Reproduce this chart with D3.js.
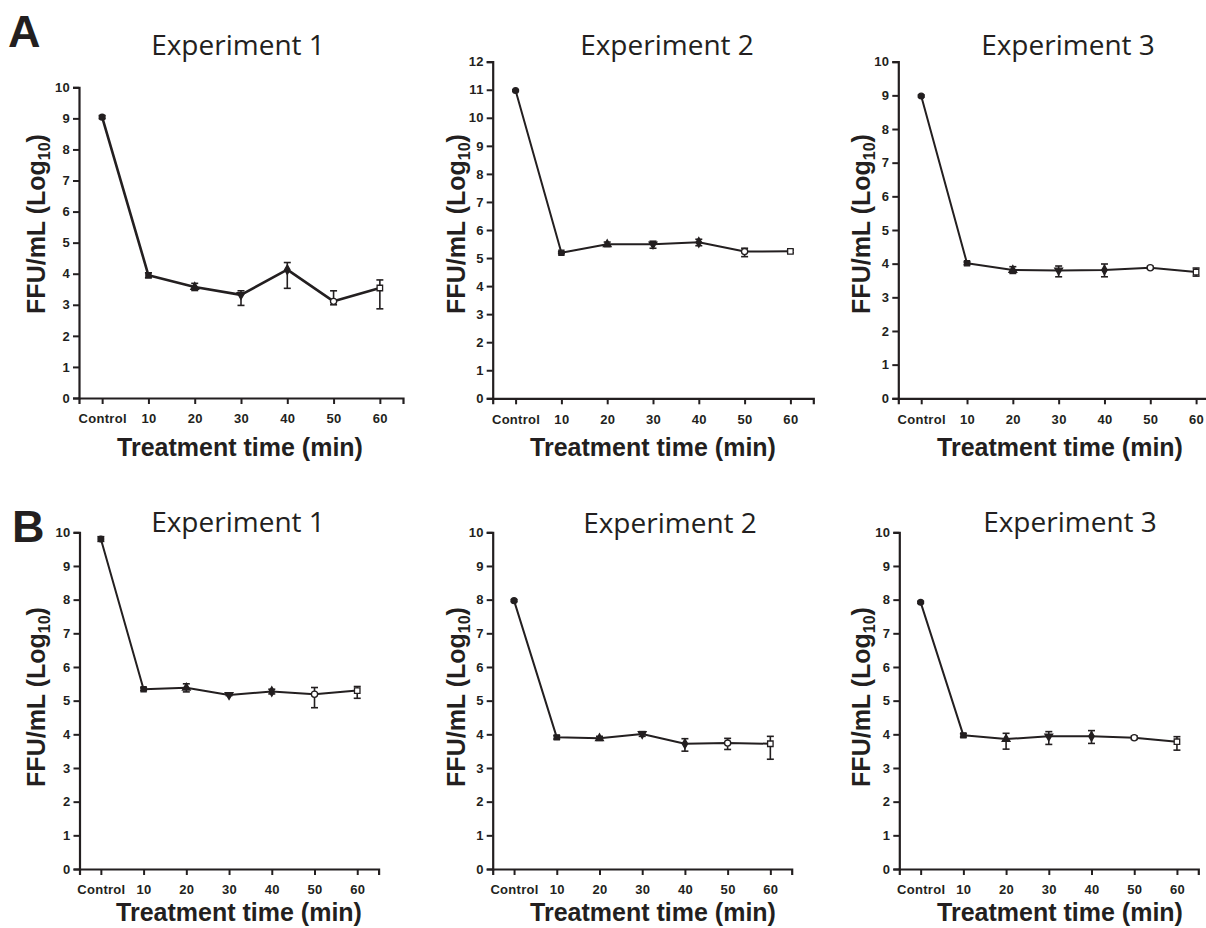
<!DOCTYPE html>
<html>
<head>
<meta charset="utf-8">
<style>
  body { margin: 0; background: #fff; }
  .tick text { font-family: "Liberation Sans", Arial, sans-serif; font-weight: bold; font-size: 13px; fill: #231f20; letter-spacing: 0.3px; }
  .title { font-family: "Open Sans", sans-serif; font-size: 28px; fill: #231f20; }
  .axtitle { font-family: "Liberation Sans", Arial, sans-serif; font-weight: bold; font-size: 25px; fill: #231f20; }
  .letter { font-family: "Liberation Sans", Arial, sans-serif; font-weight: bold; font-size: 45px; fill: #231f20; }
</style>
</head>
<body>
<svg id="fig"></svg>
<script src="https://d3js.org/d3.v7.min.js"></script>
<script>
// time points on the x axis
const timeLabels = ["Control", "10", "20", "30", "40", "50", "60"];

// panel A
const a1Mean = [9.04, 3.95, 3.57, 3.32, 4.13, 3.11, 3.54];
const a1Low  = [8.99, 3.87, 3.46, 2.98, 3.53, 3.00, 2.87];
const a1High = [9.09, 4.03, 3.69, 3.45, 4.36, 3.45, 3.80];

const a2Mean = [10.97, 5.19, 5.49, 5.49, 5.56, 5.23, 5.24];
const a2Low  = [10.94, 5.16, 5.41, 5.35, 5.44, 5.05, 5.19];
const a2High = [11.00, 5.22, 5.57, 5.60, 5.67, 5.35, 5.29];

const a3Mean = [8.98, 4.01, 3.81, 3.80, 3.81, 3.88, 3.75];
const a3Low  = [8.95, 3.97, 3.71, 3.61, 3.61, 3.84, 3.63];
const a3High = [9.01, 4.05, 3.91, 3.93, 3.99, 3.92, 3.87];

// panel B
const b1Mean = [9.80, 5.34, 5.38, 5.17, 5.27, 5.19, 5.30];
const b1Low  = [9.73, 5.30, 5.26, 5.15, 5.20, 4.79, 5.07];
const b1High = [9.87, 5.38, 5.50, 5.19, 5.34, 5.39, 5.42];

const b2Mean = [7.97, 3.91, 3.88, 4.01, 3.72, 3.74, 3.72];
const b2Low  = [7.94, 3.86, 3.82, 3.94, 3.50, 3.55, 3.26];
const b2High = [8.00, 3.96, 3.94, 4.08, 3.87, 3.88, 3.94];

const b3Mean = [7.92, 3.97, 3.86, 3.94, 3.94, 3.90, 3.78];
const b3Low  = [7.89, 3.92, 3.56, 3.70, 3.73, 3.85, 3.53];
const b3High = [7.95, 4.02, 4.03, 4.08, 4.11, 3.95, 3.93];

const yMaxes = [10, 12, 10, 10, 10, 10];
const titles = ["Experiment 1", "Experiment 2", "Experiment 3", "Experiment 1", "Experiment 2", "Experiment 3"];

// layout of each panel (pixels)
const panels = [
  {mean: a1Mean, low: a1Low, high: a1High, x0: 79,    x1: 403,    yTop: 87.3, yBot: 398,   lw: 2.6, titleX: 238,  titleY: 55,    xtX: 240,  xtY: 456, ytX: 45,  ytY: 224},
  {mean: a2Mean, low: a2Low, high: a2High, x0: 492.7, x1: 813.3,  yTop: 61.7, yBot: 398.3, lw: 2,   titleX: 667,  titleY: 55,    xtX: 653,  xtY: 456, ytX: 465, ytY: 224},
  {mean: a3Mean, low: a3Low, high: a3High, x0: 898.3, x1: 1219,   yTop: 61.7, yBot: 398.3, lw: 2,   titleX: 1068, titleY: 55,    xtX: 1060, xtY: 456, ytX: 870, ytY: 224},
  {mean: b1Mean, low: b1Low, high: b1High, x0: 79.5,  x1: 378.6,  yTop: 532.3, yBot: 869,  lw: 2,   titleX: 238,  titleY: 532,   xtX: 239,  xtY: 921, ytX: 45,  ytY: 697},
  {mean: b2Mean, low: b2Low, high: b2High, x0: 492.7, x1: 791.7,  yTop: 532.3, yBot: 869,  lw: 2,   titleX: 670,  titleY: 532.5, xtX: 653,  xtY: 921, ytX: 465, ytY: 697},
  {mean: b3Mean, low: b3Low, high: b3High, x0: 899.3, x1: 1198.3, yTop: 532.3, yBot: 869,  lw: 2,   titleX: 1070, titleY: 532,   xtX: 1060, xtY: 921, ytX: 870, ytY: 697}
];

const ink = "#231f20";
const svg = d3.select("#fig").attr("width", 1206).attr("height", 928);

// symbol per time point, like the Prism defaults
const shapes = [d3.symbolCircle, d3.symbolSquare, d3.symbolTriangle, d3.symbolTriangle, d3.symbolDiamond, d3.symbolCircle, d3.symbolSquare];
const filled = [true, true, true, true, true, false, false];

panels.forEach((p, k) => {
  const g = svg.append("g");
  const x = d3.scalePoint().domain(timeLabels).range([p.x0, p.x1]).padding(0.5);
  const y = d3.scaleLinear().domain([0, yMaxes[k]]).range([p.yBot, p.yTop]);

  const xAxis = g.append("g").attr("transform", "translate(0," + p.yBot + ")")
    .call(d3.axisBottom(x).tickSizeOuter(0).tickSize(6).tickPadding(10));
  const yAxis = g.append("g").attr("transform", "translate(" + p.x0 + ",0)")
    .call(d3.axisLeft(y).tickValues(d3.range(0, yMaxes[k] + 1)).tickSizeOuter(0).tickSize(6).tickPadding(3));
  [xAxis, yAxis].forEach(a => {
    a.select(".domain").attr("stroke", ink).attr("stroke-width", 2.2);
    a.selectAll(".tick line").attr("stroke", ink).attr("stroke-width", 2);
  });

  const data = timeLabels.map((t, i) => ({t: t, i: i, m: p.mean[i], lo: p.low[i], hi: p.high[i]}));

  // error bars
  const eb = g.selectAll(".eb").data(data).join("g").attr("class", "eb")
    .attr("stroke", ink).attr("stroke-width", 1.6);
  eb.append("line").attr("x1", d => x(d.t)).attr("x2", d => x(d.t))
    .attr("y1", d => y(d.lo)).attr("y2", d => y(d.hi));
  eb.append("line").attr("x1", d => x(d.t) - 3.5).attr("x2", d => x(d.t) + 3.5)
    .attr("y1", d => y(d.lo)).attr("y2", d => y(d.lo));
  eb.append("line").attr("x1", d => x(d.t) - 3.5).attr("x2", d => x(d.t) + 3.5)
    .attr("y1", d => y(d.hi)).attr("y2", d => y(d.hi));

  // mean line
  g.append("path").datum(data)
    .attr("fill", "none").attr("stroke", ink).attr("stroke-width", p.lw)
    .attr("stroke-linejoin", "round")
    .attr("d", d3.line().x(d => x(d.t)).y(d => y(d.m)));

  // markers
  g.selectAll(".mk").data(data).join("path").attr("class", "mk")
    .attr("transform", d => "translate(" + x(d.t) + "," + y(d.m) + ")" + (d.i === 3 ? " rotate(180)" : ""))
    .attr("d", d => d3.symbol().type(shapes[d.i]).size(d.i >= 5 ? 30 : 26)())
    .attr("fill", d => filled[d.i] ? ink : "#fff")
    .attr("stroke", ink).attr("stroke-width", 1.3);

  // texts
  g.append("text").attr("class", "title").attr("x", p.titleX).attr("y", p.titleY)
    .attr("text-anchor", "middle").text(titles[k]);
  g.append("text").attr("class", "axtitle").attr("x", p.xtX).attr("y", p.xtY)
    .attr("text-anchor", "middle").text("Treatment time (min)");
  const yt = g.append("text").attr("class", "axtitle")
    .attr("transform", "translate(" + p.ytX + "," + p.ytY + ") rotate(-90)")
    .attr("text-anchor", "middle");
  yt.append("tspan").text("FFU/mL (Log");
  yt.append("tspan").attr("font-size", "16px").attr("dy", 5).text("10");
  yt.append("tspan").attr("dy", -5).text(")");
});

svg.append("text").attr("class", "letter").attr("x", 8).attr("y", 47).text("A");
svg.append("text").attr("class", "letter").attr("x", 12).attr("y", 542).text("B");
</script>
</body>
</html>
